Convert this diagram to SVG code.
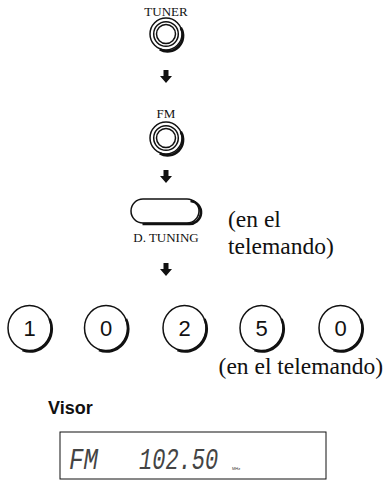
<svg xmlns="http://www.w3.org/2000/svg" width="385" height="491" viewBox="0 0 385 491">
<style>
.lbl{font-family:"Liberation Serif",serif;font-size:13px;fill:#111;text-anchor:middle}
.big{font-family:"Liberation Serif",serif;font-size:23.5px;fill:#111}
.dig{font-family:"Liberation Sans",Arial,sans-serif;font-size:22px;fill:#111;text-anchor:middle}
.ring{fill:none;stroke:#111;stroke-width:1.5}
.sh{fill:none;stroke:#111;stroke-width:2.6}
.seg{font-family:"Liberation Mono",monospace;font-style:italic;font-size:22px;fill:#444}
</style>
<defs>
<path id="arr" d="M-2.5,-6 H2.5 V0 H6 L0,7 L-6,0 H-2.5 Z" fill="#111"/>
<g id="knob">
<circle r="16" class="ring"/>
<path d="M14,-7 A15.5,15.5 0 0 1 -7,14.5" class="sh" transform="translate(0.8,0.8)"/>
<circle r="12.3" class="ring" stroke-width="1.2"/>
<circle r="9.5" class="ring" stroke-width="1.2"/>
</g>
<g id="numc">
<ellipse rx="21.5" ry="22.5" class="ring" stroke-width="1.3"/>
<path d="M19,-10 A21.5,22.5 0 0 1 -8,21" class="sh" transform="translate(1,1)"/>
</g>
</defs>
<g id="tuner">
<text x="166" y="16" class="lbl">TUNER</text>
<use href="#knob" x="166" y="34"/>
</g>
<g id="fm">
<text x="166" y="118" class="lbl">FM</text>
<use href="#knob" x="166" y="138"/>
</g>
<g id="dtuning">
<rect x="131" y="199" width="68" height="24" rx="12" class="ring"/>
<path d="M190,200.5 A11.5,11.5 0 0 1 188,223.5 H142" class="sh" transform="translate(0.5,0.5)"/>
<text x="166" y="242" class="lbl">D. TUNING</text>
<text x="228" y="227" class="big">(en el</text>
<text x="228" y="254" class="big">telemando)</text>
</g>
<g id="connectors">
<use href="#arr" x="166" y="76"/>
<use href="#arr" x="166" y="176"/>
<use href="#arr" x="166" y="269"/>
</g>
<g id="n1"><use href="#numc" x="29.5" y="328"/><text x="29.5" y="336" class="dig">1</text></g>
<g id="n2"><use href="#numc" x="106" y="328"/><text x="106" y="336" class="dig">0</text></g>
<g id="n3"><use href="#numc" x="184.5" y="328"/><text x="184.5" y="336" class="dig">2</text></g>
<g id="n4"><use href="#numc" x="261.5" y="328"/><text x="261.5" y="336" class="dig">5</text></g>
<g id="n5"><use href="#numc" x="340.5" y="328"/><text x="340.5" y="336" class="dig">0</text></g>
<text x="383" y="374" class="big" text-anchor="end">(en el telemando)</text>
<g id="visor">
<text x="48" y="414" font-family="Liberation Sans,Arial,sans-serif" font-size="18" font-weight="bold" fill="#111">Visor</text>
<rect x="60" y="432" width="266" height="47" fill="none" stroke="#111" stroke-width="1"/>
<text transform="translate(69,469) scale(1.1,1.3)" class="seg">FM</text>
<text transform="translate(139,469) scale(1,1.3)" class="seg">102.50</text>
<text x="232" y="470" font-family="Liberation Sans,sans-serif" font-size="4" fill="#333">MHz</text>
</g>
</svg>
